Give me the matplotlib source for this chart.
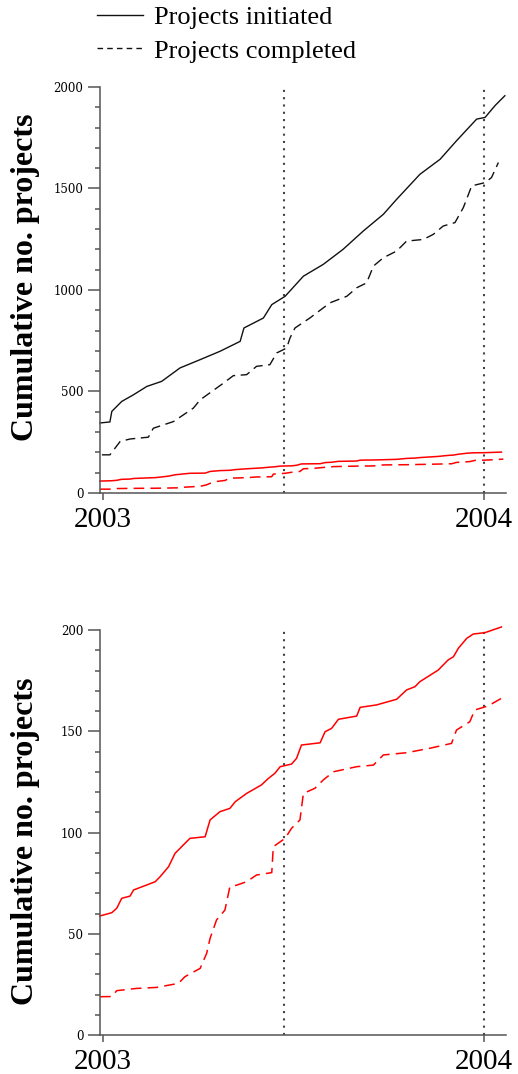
import matplotlib
matplotlib.use("Agg")
import matplotlib.pyplot as plt
from matplotlib.lines import Line2D

# decimal years / cumulative counts
init_all_x = [2002.992, 2003.018, 2003.023, 2003.049, 2003.080, 2003.115, 2003.154,
              2003.202, 2003.255, 2003.307, 2003.360, 2003.370, 2003.421, 2003.443,
              2003.478, 2003.526, 2003.578, 2003.630, 2003.683, 2003.736, 2003.771,
              2003.832, 2003.885, 2003.928, 2003.981, 2004.003, 2004.029, 2004.055]
init_all_y = [345, 350, 402, 451, 484, 525, 550,
              616, 657, 698, 747, 813, 862, 928,
              969, 1068, 1126, 1200, 1290, 1373, 1447,
              1570, 1644, 1735, 1842, 1850, 1908, 1957]

done_all_x = [2002.997, 2003.018, 2003.045, 2003.071, 2003.119, 2003.132, 2003.185,
              2003.237, 2003.255, 2003.316, 2003.342, 2003.377, 2003.403, 2003.438,
              2003.456, 2003.482, 2003.491, 2003.504, 2003.543, 2003.596, 2003.640,
              2003.666, 2003.692, 2003.710, 2003.736, 2003.771, 2003.797, 2003.841,
              2003.867, 2003.893, 2003.924, 2003.946, 2003.968, 2004.003, 2004.020,
              2004.038]
done_all_y = [188, 188, 254, 266, 275, 319, 352,
              418, 459, 541, 578, 583, 624, 632,
              690, 714, 764, 813, 862, 937, 969,
              1011, 1035, 1118, 1159, 1192, 1241, 1249,
              1274, 1315, 1332, 1406, 1513, 1529, 1554,
              1628]

init_sub_x = [2002.992, 2003.023, 2003.036, 2003.049, 2003.071, 2003.080, 2003.119,
              2003.137, 2003.150, 2003.172, 2003.189, 2003.228, 2003.268, 2003.281,
              2003.307, 2003.333, 2003.347, 2003.377, 2003.416, 2003.434, 2003.451,
              2003.465, 2003.495, 2003.508, 2003.521, 2003.570, 2003.583, 2003.600,
              2003.618, 2003.666, 2003.675, 2003.718, 2003.771, 2003.797, 2003.819,
              2003.832, 2003.880, 2003.906, 2003.920, 2003.933, 2003.955, 2003.972,
              2004.003, 2004.046]
init_sub_y = [58.8, 60.4, 62.6, 67.5, 68.6, 71.6, 74.4,
              75.7, 78.2, 83.1, 89.7, 97.1, 97.9, 106.2,
              110.3, 111.9, 115.2, 119.3, 123.5, 126.7, 129.2,
              132.5, 133.8, 136.6, 143.2, 144.3, 149.8, 151.4,
              155.9, 157.5, 161.8, 163.0, 165.8, 170.4, 172.0,
              174.5, 180.2, 185.2, 186.8, 191.0, 195.9, 198.0,
              198.7, 201.5]

done_sub_x = [2002.992, 2003.023, 2003.036, 2003.088, 2003.141, 2003.198, 2003.215,
              2003.255, 2003.272, 2003.281, 2003.298, 2003.320, 2003.333, 2003.351,
              2003.377, 2003.403, 2003.443, 2003.447, 2003.478, 2003.495, 2003.517,
              2003.526, 2003.556, 2003.578, 2003.605, 2003.666, 2003.710, 2003.736,
              2003.797, 2003.858, 2003.915, 2003.928, 2003.963, 2003.976, 2004.011,
              2004.051]
done_sub_y = [18.9, 19.0, 21.9, 23.0, 23.5, 25.5, 28.8,
              32.9, 40.3, 47.7, 56.8, 61.7, 73.2, 74.0,
              75.7, 79.0, 80.2, 93.0, 97.1, 102.1, 106.2,
              119.3, 121.8, 125.9, 130.0, 132.5, 133.3, 138.3,
              139.4, 141.6, 144.0, 150.6, 154.7, 160.5, 162.5,
              166.8]

year_ticks = [2003, 2004]
year_labels = ["2003", "2004"]
marker_dates = [2003.476, 2004.0]

SERIF = ["Liberation Serif", "DejaVu Serif"]
AX_COL = "#555555"
DASH = (0, (7, 4))


def style_axis(ax, ymax, major, minor):
    ax.set_xlim(2002.992, 2004.058)
    ax.set_ylim(0, ymax)
    for s in ("top", "right"):
        ax.spines[s].set_visible(False)
    for s in ("left", "bottom"):
        ax.spines[s].set_color(AX_COL)
        ax.spines[s].set_linewidth(1.1)
    ax.set_xticks(year_ticks)
    ax.set_xticklabels(year_labels, fontsize=21, family=SERIF)
    ax.set_yticks(range(0, ymax + 1, major))
    ax.set_yticks(range(0, ymax + 1, minor), minor=True)
    ax.tick_params(axis="x", length=5, width=1.1, color=AX_COL, pad=5)
    ax.tick_params(axis="y", which="major", length=9, width=1.1, color=AX_COL,
                   labelsize=8.5, pad=3)
    ax.tick_params(axis="y", which="minor", length=3.6, width=1.1, color=AX_COL)
    for lab in ax.get_yticklabels():
        lab.set_family("DejaVu Serif")
    for d in marker_dates:
        ax.axvline(d, color="#444444", lw=1.5, ls=(0, (1, 2.5)), zorder=1)


fig = plt.figure(figsize=(5.18, 10.74), dpi=100)
ax1 = fig.add_axes([100 / 518, 1 - 493 / 1074, 406 / 518, 406 / 1074])
ax2 = fig.add_axes([100 / 518, 1 - 1035 / 1074, 406 / 518, 405 / 1074])

ax1.plot(init_all_x, init_all_y, color="#111111", lw=1.0, clip_on=False)
ax1.plot(done_all_x, done_all_y, color="#111111", lw=1.0, ls=DASH, clip_on=False)
ax1.plot(init_sub_x, init_sub_y, color="red", lw=1.1, clip_on=False)
ax1.plot(done_sub_x, done_sub_y, color="red", lw=1.1, ls=DASH, clip_on=False)
style_axis(ax1, 2000, 500, 100)

ax2.plot(init_sub_x, init_sub_y, color="red", lw=1.1, clip_on=False)
ax2.plot(done_sub_x, done_sub_y, color="red", lw=1.1, ls=DASH, clip_on=False)
style_axis(ax2, 200, 50, 10)

for yc in (277, 841):
    fig.text(26 / 518, 1 - yc / 1074, "Cumulative no. projects", rotation=90,
             ha="center", va="center", fontsize=23, fontweight="bold", family=SERIF)

handles = [Line2D([], [], color="#111111", lw=1.0),
           Line2D([], [], color="#111111", lw=1.0, ls=(0, (4, 3)))]
fig.legend(handles, ["Projects initiated", "Projects completed"],
           loc="upper left", bbox_to_anchor=(97 / 518, 1 - 6 / 1074),
           frameon=False, prop={"family": SERIF, "size": 19},
           handlelength=1.75, handletextpad=0.4, labelspacing=0.37,
           borderpad=0, borderaxespad=0)

fig.savefig("out.png", dpi=100)
